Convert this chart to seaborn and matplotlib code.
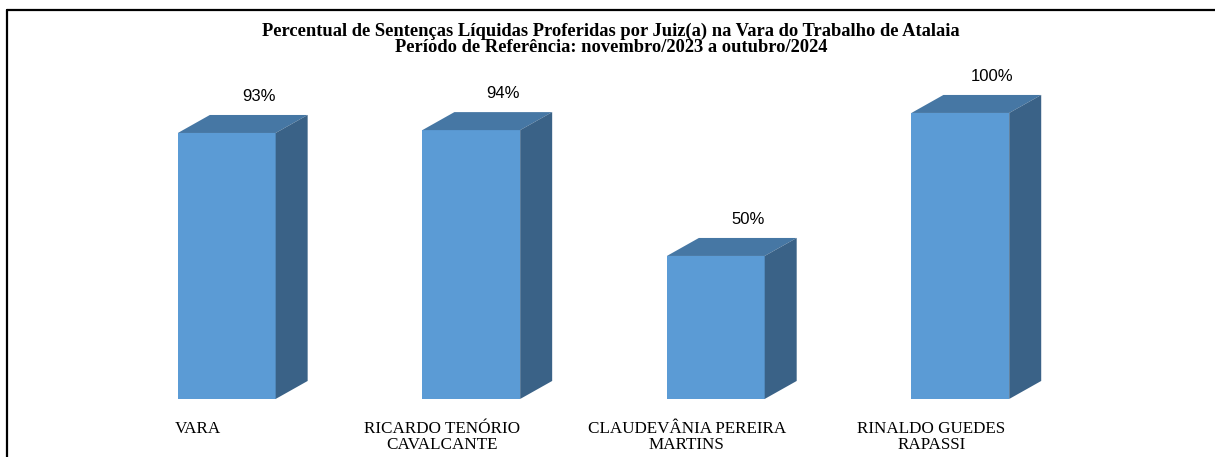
import matplotlib
matplotlib.use('Agg')
import matplotlib.pyplot as plt
import matplotlib.transforms as mtrans
from matplotlib.patches import Polygon
from matplotlib.lines import Line2D
import seaborn as sns
import pandas as pd

# datos del grafico
juizes = ['VARA', 'RICARDO TENÓRIO\nCAVALCANTE', 'CLAUDEVÂNIA PEREIRA\nMARTINS', 'RINALDO GUEDES\nRAPASSI']
percentuais = [93, 94, 50, 100]
rotulos = ['93%', '94%', '50%', '100%']
titulo = ('Percentual de Sentenças Líquidas Proferidas por Juiz(a) na Vara do Trabalho de Atalaia\n'
          'Período de Referência: novembro/2023 a outubro/2024')

cor_frente = '#5B9BD5'
cor_topo = '#4677A4'
cor_lado = '#3A6287'

df = pd.DataFrame({'juiz': juizes, 'perc': percentuais})

sns.set_style('white')
plt.rcParams['font.family'] = ['Liberation Serif', 'DejaVu Serif']
plt.rcParams['text.color'] = 'black'
plt.rcParams['xtick.color'] = 'black'

fig = plt.figure(figsize=(12.15, 4.57), dpi=100)
ax = fig.add_axes([0.086, 0.127, 0.805, 0.751])

sns.barplot(data=df, x='juiz', y='perc', color=cor_frente, width=0.4,
            saturation=1, ax=ax, edgecolor='none')
ax.set_xlim(-0.5, 3.5)
ax.set_ylim(0, 120)

# profundidade 3D en pixeles -> unidades de datos
fig.canvas.draw()
bb = ax.get_window_extent()
dx = 32 * (4.0 / bb.width)
dy = 18 * (120.0 / bb.height)

for p, lab in zip(ax.patches, rotulos):
    x0 = p.get_x()
    x1 = x0 + p.get_width()
    h = p.get_height()
    topo = Polygon([(x0, h), (x1, h), (x1 + dx, h + dy), (x0 + dx, h + dy)],
                   closed=True, facecolor=cor_topo, edgecolor='none')
    lado = Polygon([(x1, 0), (x1 + dx, dy), (x1 + dx, h + dy), (x1, h)],
                   closed=True, facecolor=cor_lado, edgecolor='none')
    ax.add_patch(topo)
    ax.add_patch(lado)
    ax.annotate(lab, (x0 + p.get_width() / 2 + dx, h + dy), xytext=(0, 8),
                textcoords='offset points', ha='center', va='bottom',
                fontsize=12, family=['Liberation Sans', 'DejaVu Sans'])

ax.set_xlabel('')
ax.set_ylabel('')
ax.set_yticks([])
ax.tick_params(axis='x', length=0, pad=16)
ax.set_xticks(range(len(juizes)))
ax.set_xticklabels(juizes, fontsize=12.3, linespacing=0.95, va='top')
desloc = mtrans.ScaledTranslation(-29 / 100, 0, fig.dpi_scale_trans)
for t in ax.get_xticklabels():
    t.set_transform(t.get_transform() + desloc)
sns.despine(ax=ax, left=True, bottom=True)

fig.text(0.503, 0.914, titulo, ha='center', va='center', fontsize=13.3,
         fontweight='bold', linespacing=0.98)

# borde
fig.add_artist(Line2D([7 / 1215, 1.0], [1 - 10 / 457, 1 - 10 / 457], color='black', lw=1.6))
fig.add_artist(Line2D([7 / 1215, 7 / 1215], [0, 1 - 10 / 457], color='black', lw=1.6))

fig.savefig('out.png', dpi=100)
